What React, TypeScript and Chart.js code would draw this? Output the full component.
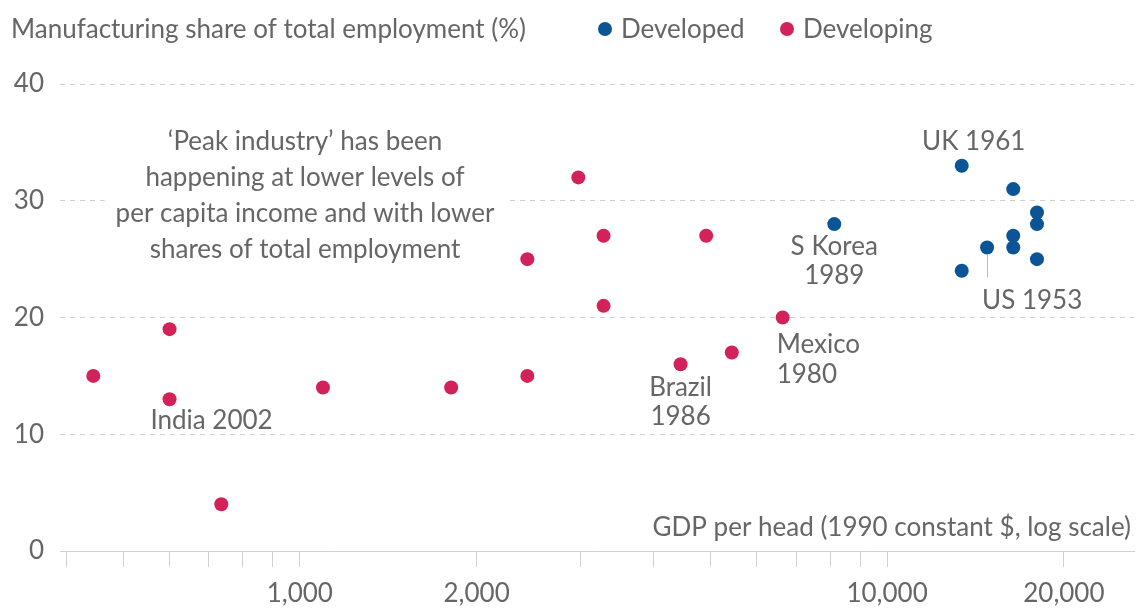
import React, { useEffect, useRef } from "react";
import { Chart, registerables } from "chart.js";

Chart.register(...registerables);

const developingGdp = [445, 600, 600, 735, 1095, 1810, 2440, 2440, 2980, 3290, 3290, 4450, 4920, 5440, 6640];
const developingShare = [15, 19, 13, 4, 14, 14, 15, 25, 32, 27, 21, 16, 27, 17, 20];
const developedGdp = [8130, 13400, 13400, 14800, 16400, 16400, 16400, 18000, 18000, 18000];
const developedShare = [28, 33, 24, 26, 31, 27, 26, 29, 28, 25];
const xTickValues = [400, 500, 600, 700, 800, 900, 1000, 2000, 3000, 4000, 5000, 6000, 7000, 8000, 9000, 10000, 20000];
const xLabelledTicks = [1000, 2000, 10000, 20000];
const seriesNames = ["Developed", "Developing"];

const FONT = "Lato";
const FS = 26;
const TEXT = "#666666";
const BLUE = "#0b5597";
const PINK = "#d3215a";

export default function App() {
  const ref = useRef<HTMLCanvasElement | null>(null);
  useEffect(() => {
    const canvas = ref.current!;
    const chart = new Chart(canvas, {
      type: "scatter",
      data: {
        datasets: [
          {
            label: seriesNames[0],
            data: developedGdp.map((x, i) => ({ x, y: developedShare[i] })),
            backgroundColor: BLUE,
            borderWidth: 0,
            pointRadius: 7,
            pointHoverRadius: 7,
          },
          {
            label: seriesNames[1],
            data: developingGdp.map((x, i) => ({ x, y: developingShare[i] })),
            backgroundColor: PINK,
            borderWidth: 0,
            pointRadius: 7,
            pointHoverRadius: 7,
          },
        ],
      },
      options: {
        animation: false,
        responsive: false,
        devicePixelRatio: 1,
        layout: { padding: { top: 84, right: 2, left: 0, bottom: 0 } },
        plugins: { legend: { display: false }, tooltip: { enabled: false } },
        scales: {
          x: {
            type: "logarithmic",
            min: 390.5,
            max: 26330,
            afterBuildTicks: (s: any) => {
              s.ticks = xTickValues.map((v) => ({ value: v }));
            },
            afterFit: (s: any) => {
              s.height = 57;
            },
            grid: { display: true, drawOnChartArea: false, drawTicks: true, tickLength: 16, color: "#d0d0d0" },
            border: { display: true, color: "#d0d0d0" },
            ticks: {
              autoSkip: false,
              maxRotation: 0,
              padding: 11,
              color: TEXT,
              font: { family: FONT, size: FS },
              callback: (v: any) => (xLabelledTicks.includes(Number(v)) ? Number(v).toLocaleString("en-US") : ""),
            },
          },
          y: {
            min: 0,
            max: 40,
            afterFit: (s: any) => {
              s.width = 60;
            },
            grid: {
              drawTicks: false,
              color: (ctx: any) => (ctx.tick && ctx.tick.value === 0 ? "rgba(0,0,0,0)" : "#d0d0d0"),
            },
            border: { display: false, dash: [5, 5] },
            ticks: { stepSize: 10, padding: 16, color: TEXT, font: { family: FONT, size: FS } },
          },
        },
      },
      plugins: [
        {
          id: "decor",
          afterDatasetsDraw(ch: any) {
            const g = ch.ctx as CanvasRenderingContext2D;
            const xs = ch.scales.x;
            const ys = ch.scales.y;
            g.save();
            g.fillStyle = TEXT;
            g.textBaseline = "middle";
            g.font = `${FS}px ${FONT}`;
            // title + legend
            g.textAlign = "left";
            g.fillText("Manufacturing share of total employment (%)", 11, 30);
            [BLUE, PINK].forEach((col, i) => {
              const cx = i === 0 ? 605 : 787;
              g.fillStyle = col;
              g.beginPath();
              g.arc(cx, 29, 7, 0, Math.PI * 2);
              g.fill();
              g.fillStyle = TEXT;
              g.fillText(seriesNames[i], cx + 16, 30);
            });
            // axis title
            g.textAlign = "right";
            g.fillText("GDP per head (1990 constant $, log scale)", ch.chartArea.right - 3, 528);
            // annotation box
            const lines = [
              "\u2018Peak industry\u2019 has been",
              "happening at lower levels of",
              "per capita income and with lower",
              "shares of total employment",
            ];
            const w = Math.max(...lines.map((l) => g.measureText(l).width));
            g.fillStyle = "#ffffff";
            g.fillRect(305 - w / 2 - 11, 122, w + 22, 146);
            g.fillStyle = TEXT;
            g.textAlign = "center";
            lines.forEach((l, i) => g.fillText(l, 305, 142 + i * 36));
            // point labels
            const lab = (t: string, gx: number, sy: number, dx: number, dy: number, al: CanvasTextAlign) => {
              g.textAlign = al;
              g.fillText(t, xs.getPixelForValue(gx) + dx, ys.getPixelForValue(sy) + dy);
            };
            lab("UK 1961", 13400, 33, 12, -24, "center");
            lab("S Korea", 8130, 28, 0, 23, "center");
            lab("1989", 8130, 28, 0, 52, "center");
            lab("Mexico", 6640, 20, -6, 27, "left");
            lab("1980", 6640, 20, -6, 57, "left");
            lab("Brazil", 4450, 16, 0, 23, "center");
            lab("1986", 4450, 16, 0, 52, "center");
            lab("India 2002", 600, 13, 42, 21, "center");
            lab("US 1953", 14800, 26, -5, 53, "left");
            // US leader line
            const ux = Math.round(xs.getPixelForValue(14800)) + 0.5;
            const uy = ys.getPixelForValue(26);
            g.strokeStyle = "#bbbbbb";
            g.lineWidth = 1;
            g.beginPath();
            g.moveTo(ux, uy + 7);
            g.lineTo(ux, uy + 30);
            g.stroke();
            g.restore();
          },
        },
      ],
    } as any);
    return () => chart.destroy();
  }, []);
  return (
    <div style={{ position: "fixed", left: 0, top: 0, width: 1141, height: 608, background: "#fff" }}>
      <canvas ref={ref} width={1141} height={608} style={{ display: "block" }} />
    </div>
  );
}
